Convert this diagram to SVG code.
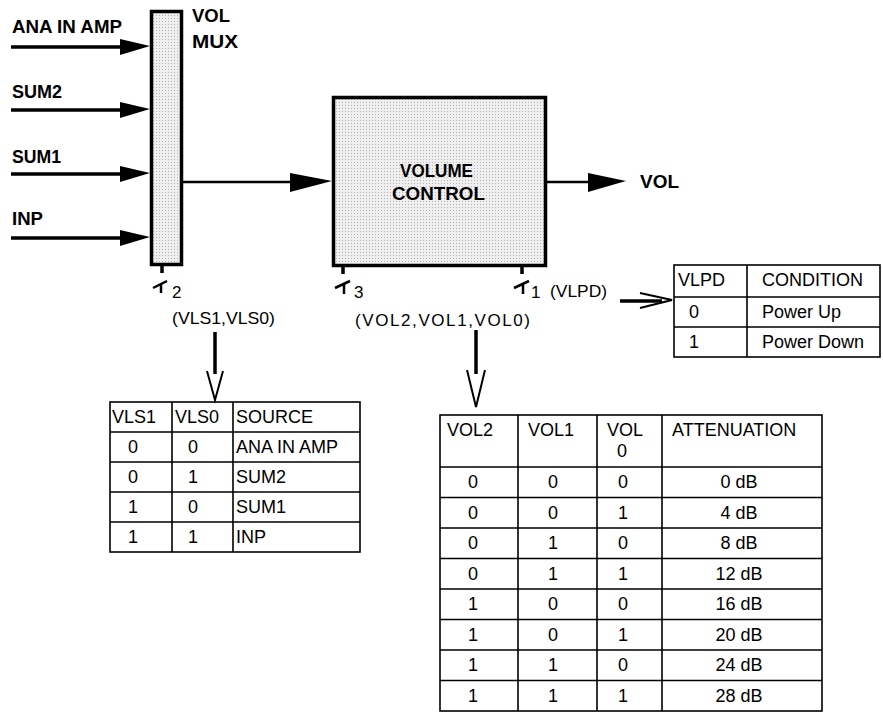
<svg xmlns="http://www.w3.org/2000/svg" width="883" height="712" viewBox="0 0 883 712">
<defs>
<pattern id="dots" width="3" height="3" patternUnits="userSpaceOnUse">
<rect width="3" height="3" fill="#efefef"/>
<rect width="1" height="1" fill="#b4b4b4"/>
</pattern>
</defs>
<style>
.ln{stroke:#000;stroke-width:3.5;fill:none}
.thin{stroke:#000;stroke-width:2.5;fill:none}
.head{fill:#000;stroke:none}
.vee{fill:none;stroke:#000;stroke-width:2;stroke-linejoin:miter}
.box{fill:url(#dots);stroke:#000;stroke-width:3.5}
.lbl{font-family:"Liberation Sans",Arial,sans-serif;font-weight:bold;font-size:18px;fill:#000}
.sig{font-family:"Liberation Sans",Arial,sans-serif;font-size:17px;fill:#000}
.txt{font-family:"Liberation Sans",Arial,sans-serif;font-size:18px;fill:#000}
.tbl{fill:none;stroke:#000;stroke-width:1.6}
</style>

<g id="connectors">
  <line class="ln" x1="11" y1="47" x2="122" y2="47"/>
  <polygon class="head" points="120,39 150,46 120,55"/>
  <line class="ln" x1="11" y1="110" x2="122" y2="110"/>
  <polygon class="head" points="120,102 150,109 120,118"/>
  <line class="ln" x1="11" y1="174" x2="122" y2="174"/>
  <polygon class="head" points="120,166 150,173 120,182"/>
  <line class="ln" x1="11" y1="238" x2="122" y2="238"/>
  <polygon class="head" points="120,230 150,237 120,246"/>
  <line class="thin" x1="183" y1="182" x2="292" y2="182"/>
  <polygon class="head" points="290,173 332,181 290,192"/>
  <line class="thin" x1="547" y1="182" x2="590" y2="182"/>
  <polygon class="head" points="588,173 626,181 588,192"/>
  <line class="ln" x1="162" y1="264" x2="162" y2="273"/>
  <path class="thin" d="M153,288 L167,281 M161,283 V293"/>
  <line class="ln" x1="343" y1="266" x2="343" y2="274"/>
  <path class="thin" d="M335,288 L350,281 M344,283 V294"/>
  <line class="ln" x1="522" y1="266" x2="522" y2="274"/>
  <path class="thin" d="M514,288 L529,281 M523,283 V294"/>
  <line class="ln" x1="215" y1="332" x2="215" y2="374"/>
  <polyline class="vee" points="207,371 215,400 223,371"/>
  <line class="ln" x1="476" y1="330" x2="476" y2="374"/>
  <polyline class="vee" points="467,370 476,407 485,370"/>
  <line class="ln" x1="620" y1="301" x2="662" y2="301"/>
  <polyline class="vee" points="640,293 672,300 640,308"/>
</g>

<g id="labels">
  <text class="lbl" x="12" y="33" textLength="110" lengthAdjust="spacingAndGlyphs">ANA IN AMP</text>
  <text class="lbl" x="12" y="98" textLength="50" lengthAdjust="spacingAndGlyphs">SUM2</text>
  <text class="lbl" x="12" y="163" textLength="49" lengthAdjust="spacingAndGlyphs">SUM1</text>
  <text class="lbl" x="12" y="225" textLength="31" lengthAdjust="spacingAndGlyphs">INP</text>
  <text class="sig" x="172" y="298">2</text>
  <text class="sig" x="354" y="298">3</text>
  <text class="sig" x="531" y="298">1</text>
  <text class="sig" x="550" y="297" textLength="57" lengthAdjust="spacingAndGlyphs">(VLPD)</text>
  <text class="sig" x="172" y="324" textLength="103" lengthAdjust="spacingAndGlyphs">(VLS1,VLS0)</text>
  <text class="sig" x="355" y="326" textLength="175" lengthAdjust="spacing">(VOL2,VOL1,VOL0)</text>
  <text class="lbl" x="640" y="188" textLength="39" lengthAdjust="spacingAndGlyphs">VOL</text>
</g>

<g id="vol-mux">
  <rect class="box" x="151.5" y="11.5" width="30" height="253"/>
  <text class="lbl" x="192" y="22" textLength="38" lengthAdjust="spacingAndGlyphs">VOL</text>
  <text class="lbl" x="192" y="48" textLength="46" lengthAdjust="spacingAndGlyphs">MUX</text>
</g>

<g id="volume-control">
  <rect class="box" x="333.5" y="97.5" width="212" height="168"/>
  <text class="lbl" x="400" y="177" textLength="73" lengthAdjust="spacingAndGlyphs">VOLUME</text>
  <text class="lbl" x="392" y="200" textLength="93" lengthAdjust="spacingAndGlyphs">CONTROL</text>
</g>

<g id="vlpd-table">
  <rect class="tbl" x="674" y="265" width="206" height="92"/>
  <path class="tbl" d="M674,297 H880 M674,327 H880 M747,265 V357"/>
  <text class="txt" x="678" y="286">VLPD</text>
  <text class="txt" x="762" y="286">CONDITION</text>
  <text class="txt" x="694" y="318" text-anchor="middle">0</text>
  <text class="txt" x="762" y="318">Power Up</text>
  <text class="txt" x="694" y="348" text-anchor="middle">1</text>
  <text class="txt" x="762" y="348">Power Down</text>
</g>

<g id="vls-table">
  <rect class="tbl" x="110" y="402" width="250" height="150"/>
  <path class="tbl" d="M110,432 H360 M110,462 H360 M110,492 H360 M110,522 H360 M172,402 V552 M233,402 V552"/>
  <text class="txt" x="112" y="423">VLS1</text>
  <text class="txt" x="175" y="423">VLS0</text>
  <text class="txt" x="236" y="423">SOURCE</text>
  <g text-anchor="middle">
    <text class="txt" x="133" y="453">0</text><text class="txt" x="193" y="453">0</text>
    <text class="txt" x="133" y="483">0</text><text class="txt" x="193" y="483">1</text>
    <text class="txt" x="133" y="513">1</text><text class="txt" x="193" y="513">0</text>
    <text class="txt" x="133" y="543">1</text><text class="txt" x="193" y="543">1</text>
  </g>
  <text class="txt" x="236" y="453">ANA IN AMP</text>
  <text class="txt" x="236" y="483">SUM2</text>
  <text class="txt" x="236" y="513">SUM1</text>
  <text class="txt" x="236" y="543">INP</text>
</g>

<g id="vol-table">
  <rect class="tbl" x="440" y="415" width="382" height="296"/>
  <path class="tbl" d="M440,467 H822 M440,497.5 H822 M440,528 H822 M440,558.5 H822 M440,589 H822 M440,619.5 H822 M440,650 H822 M440,680.5 H822 M518,415 V711 M597,415 V711 M662,415 V711"/>
  <text class="txt" x="447" y="436">VOL2</text>
  <text class="txt" x="528" y="436">VOL1</text>
  <text class="txt" x="607" y="436">VOL</text>
  <text class="txt" x="622" y="457" text-anchor="middle">0</text>
  <text class="txt" x="672" y="436">ATTENUATION</text>
  <g text-anchor="middle">
    <text class="txt" x="473" y="488">0</text><text class="txt" x="553" y="488">0</text><text class="txt" x="623" y="488">0</text><text class="txt" x="739" y="488">0 dB</text>
    <text class="txt" x="473" y="518.5">0</text><text class="txt" x="553" y="518.5">0</text><text class="txt" x="623" y="518.5">1</text><text class="txt" x="739" y="518.5">4 dB</text>
    <text class="txt" x="473" y="549">0</text><text class="txt" x="553" y="549">1</text><text class="txt" x="623" y="549">0</text><text class="txt" x="739" y="549">8 dB</text>
    <text class="txt" x="473" y="579.5">0</text><text class="txt" x="553" y="579.5">1</text><text class="txt" x="623" y="579.5">1</text><text class="txt" x="739" y="579.5">12 dB</text>
    <text class="txt" x="473" y="610">1</text><text class="txt" x="553" y="610">0</text><text class="txt" x="623" y="610">0</text><text class="txt" x="739" y="610">16 dB</text>
    <text class="txt" x="473" y="640.5">1</text><text class="txt" x="553" y="640.5">0</text><text class="txt" x="623" y="640.5">1</text><text class="txt" x="739" y="640.5">20 dB</text>
    <text class="txt" x="473" y="671">1</text><text class="txt" x="553" y="671">1</text><text class="txt" x="623" y="671">0</text><text class="txt" x="739" y="671">24 dB</text>
    <text class="txt" x="473" y="701.5">1</text><text class="txt" x="553" y="701.5">1</text><text class="txt" x="623" y="701.5">1</text><text class="txt" x="739" y="701.5">28 dB</text>
  </g>
</g>
</svg>
